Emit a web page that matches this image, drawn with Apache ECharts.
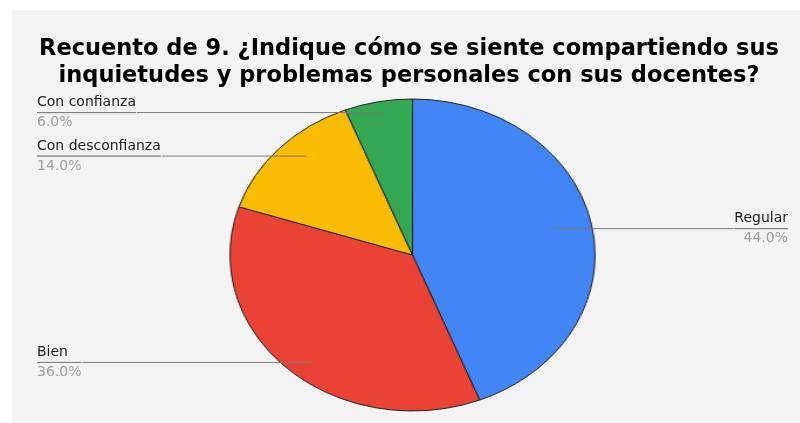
<!DOCTYPE html>
<html>
<head>
<meta charset="utf-8">
<script src="https://cdn.jsdelivr.net/npm/echarts@6/dist/echarts.min.js"></script>
<style>
  html, body { margin: 0; padding: 0; background: #ffffff; overflow: hidden; }
  .panel { position: absolute; left: 12px; top: 10px; width: 788px; height: 413px; background: #f3f3f3; }
  .layer { position: absolute; left: 0; top: 0; width: 800px; height: 423px; }
  /* la torta original es una elipse: se estira solo la capa del pastel */
  #pieChart { transform: scaleX(1.17); transform-origin: 412.5px 0; }
</style>
</head>
<body>
<div class="panel"></div>
<div id="pieChart" class="layer"></div>
<div id="labelChart" class="layer"></div>
<script>
const titleText = 'Recuento de 9. ¿Indique cómo se siente compartiendo sus\ninquietudes y problemas personales con sus docentes?'
const categories = ['Regular', 'Bien', 'Con desconfianza', 'Con confianza']
const counts = [22, 18, 7, 3]
const colors = ['#4285f4', '#ea4335', '#fbbc04', '#34a853']

const pieData = categories.map((name, i) => ({ name: name, value: counts[i] }))

// capa 1: el pastel (estirado con css)
let pieChart = echarts.init(document.getElementById('pieChart'))
pieChart.setOption({
  animation: false,
  color: colors,
  series: [
    {
      type: 'pie',
      radius: 156,
      center: [412.5, 255],
      startAngle: 90,
      clockwise: true,
      silent: true,
      label: { show: false },
      labelLine: { show: false },
      itemStyle: {
        borderColor: '#222222',
        borderWidth: 1
      },
      data: pieData
    }
  ]
})

// capa 2: titulo y etiquetas
let labelChart = echarts.init(document.getElementById('labelChart'))
labelChart.setOption({
  animation: false,
  title: {
    text: titleText,
    left: 404,
    top: 31,
    textAlign: 'center',
    textStyle: {
      fontFamily: 'DejaVu Sans',
      fontWeight: 'bold',
      fontSize: 22.5,
      lineHeight: 27,
      color: '#000000'
    }
  },
  series: [
    {
      type: 'pie',
      left: 25,
      right: 0,
      top: 0,
      bottom: 0,
      radius: 145,
      center: [387.5, 256],
      startAngle: 90,
      clockwise: true,
      silent: true,
      avoidLabelOverlap: true,
      itemStyle: { color: 'transparent' },
      label: {
        alignTo: 'edge',
        edgeDistance: 12,
        distanceToLabelLine: 0,
        formatter: p => '{n|' + p.name + '}\n{hr|}\n{p|' + p.percent.toFixed(1) + '%}',
        rich: {
          n: { fontFamily: 'DejaVu Sans', fontSize: 14, color: '#222222', lineHeight: 20 },
          hr: { borderColor: '#7a7a7a', borderWidth: 0.8, width: '100%', height: 0 },
          p: { fontFamily: 'DejaVu Sans', fontSize: 14, color: '#a0a0a0', lineHeight: 20 }
        }
      },
      labelLine: {
        show: true,
        length: 1,
        length2: 10,
        lineStyle: { color: '#7a7a7a', width: 1 }
      },
      data: pieData
    }
  ]
})
</script>
</body>
</html>
